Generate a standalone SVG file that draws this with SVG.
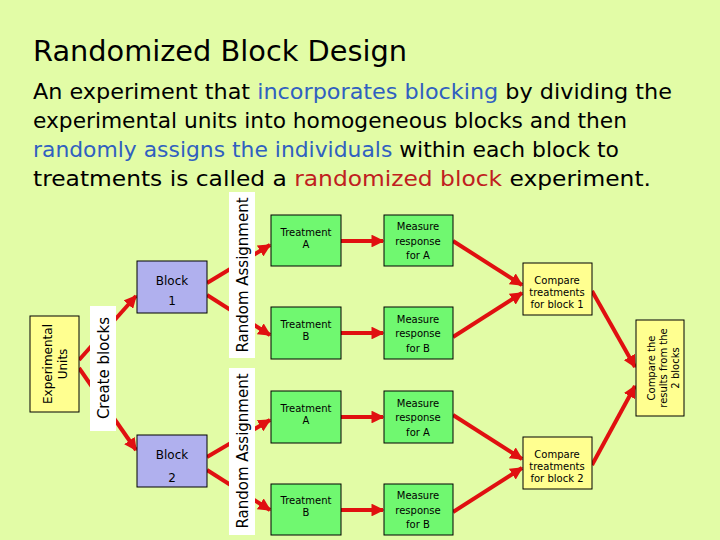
<svg xmlns="http://www.w3.org/2000/svg" width="720" height="540" viewBox="0 0 720 540">
<defs>
<marker id="ah" viewBox="0 0 10 10" refX="9" refY="5" markerWidth="3.2" markerHeight="3.2" orient="auto"><path d="M0,0L10,5L0,10z" fill="#e01010"/></marker>
<style>
text{font-family:"DejaVu Sans",sans-serif;fill:#000}
.c line{stroke:#e01010;stroke-width:4;marker-end:url(#ah)}
.g{fill:#70f870;stroke:#000}
.y{fill:#ffff90;stroke:#000}
.b{fill:#b0b0ee;stroke:#000}
.w{fill:#fff}
.s{font-size:10px;text-anchor:middle}
.m{font-size:12px;text-anchor:middle}
.hb{fill:#3060c0}
.hr{fill:#c02020}
</style>
</defs>
<rect width="720" height="540" fill="#e2fca6"/>
<text x="33" y="61" font-size="29" fill="#101010" textLength="374" lengthAdjust="spacingAndGlyphs">Randomized Block Design</text>
<g font-size="22">
<text x="33" y="99" textLength="639" lengthAdjust="spacingAndGlyphs">An experiment that <tspan class="hb">incorporates blocking</tspan> by dividing the</text>
<text x="33" y="128" textLength="594" lengthAdjust="spacingAndGlyphs">experimental units into homogeneous blocks and then</text>
<text x="33" y="157" textLength="586" lengthAdjust="spacingAndGlyphs"><tspan class="hb">randomly assigns the individuals</tspan> within each block to</text>
<text x="33" y="186" textLength="618" lengthAdjust="spacingAndGlyphs">treatments is called a <tspan class="hr">randomized block</tspan> experiment.</text>
</g>
<g class="c">
<line x1="79" y1="360" x2="136" y2="296"/>
<line x1="79" y1="368" x2="136" y2="450"/>
<line x1="207" y1="283" x2="270" y2="245"/>
<line x1="207" y1="295" x2="270" y2="335"/>
<line x1="207" y1="457" x2="270" y2="420"/>
<line x1="207" y1="470" x2="270" y2="510"/>
<line x1="341" y1="241" x2="383" y2="241"/>
<line x1="341" y1="333" x2="383" y2="333"/>
<line x1="341" y1="417" x2="383" y2="417"/>
<line x1="341" y1="510" x2="383" y2="510"/>
<line x1="453" y1="241" x2="522" y2="285"/>
<line x1="453" y1="337" x2="522" y2="293"/>
<line x1="453" y1="415" x2="522" y2="459"/>
<line x1="453" y1="512" x2="522" y2="468"/>
<line x1="592" y1="291" x2="635" y2="367"/>
<line x1="592" y1="465" x2="635" y2="386"/>
</g>
<g id="exp"><rect class="y" x="30" y="316" width="49" height="96"/><text class="m" transform="translate(52,364) rotate(-90)">Experimental</text><text class="m" transform="translate(67,364) rotate(-90)">Units</text></g>
<g id="create"><rect class="w" x="90" y="306" width="26" height="125"/><text font-size="15" text-anchor="middle" transform="translate(109,368) rotate(-90)">Create blocks</text></g>
<g id="block1"><rect class="b" x="137" y="261" width="70" height="52"/><text class="m" x="172" y="285">Block</text><text class="m" x="172" y="305">1</text></g>
<g id="block2"><rect class="b" x="137" y="435" width="70" height="52"/><text class="m" x="172" y="459">Block</text><text class="m" x="172" y="482">2</text></g>
<g id="ra1"><rect class="w" x="229" y="192" width="26" height="166"/><text font-size="15" text-anchor="middle" transform="translate(248,275) rotate(-90)">Random Assignment</text></g>
<g id="ra2"><rect class="w" x="229" y="368" width="26" height="167"/><text font-size="15" text-anchor="middle" transform="translate(248,451) rotate(-90)">Random Assignment</text></g>
<g id="t1"><rect class="g" x="271" y="215" width="70" height="51"/><text class="s" x="306" y="236">Treatment</text><text class="s" x="306" y="248">A</text></g>
<g id="t2"><rect class="g" x="271" y="307" width="70" height="52"/><text class="s" x="306" y="328">Treatment</text><text class="s" x="306" y="340">B</text></g>
<g id="t3"><rect class="g" x="271" y="391" width="70" height="52"/><text class="s" x="306" y="412">Treatment</text><text class="s" x="306" y="424">A</text></g>
<g id="t4"><rect class="g" x="271" y="484" width="70" height="51"/><text class="s" x="306" y="504">Treatment</text><text class="s" x="306" y="516">B</text></g>
<g id="m1"><rect class="g" x="384" y="215" width="69" height="51"/><text class="s" x="418" y="230">Measure</text><text class="s" x="418" y="245">response</text><text class="s" x="418" y="259">for A</text></g>
<g id="m2"><rect class="g" x="384" y="307" width="69" height="52"/><text class="s" x="418" y="323">Measure</text><text class="s" x="418" y="337">response</text><text class="s" x="418" y="352">for B</text></g>
<g id="m3"><rect class="g" x="384" y="391" width="69" height="52"/><text class="s" x="418" y="407">Measure</text><text class="s" x="418" y="421">response</text><text class="s" x="418" y="436">for A</text></g>
<g id="m4"><rect class="g" x="384" y="484" width="69" height="51"/><text class="s" x="418" y="499">Measure</text><text class="s" x="418" y="514">response</text><text class="s" x="418" y="528">for B</text></g>
<g id="c1"><rect class="y" x="523" y="263" width="69" height="52"/><text class="s" x="557" y="284">Compare</text><text class="s" x="557" y="296">treatments</text><text class="s" x="557" y="308">for block 1</text></g>
<g id="c2"><rect class="y" x="523" y="437" width="69" height="52"/><text class="s" x="557" y="458">Compare</text><text class="s" x="557" y="470">treatments</text><text class="s" x="557" y="482">for block 2</text></g>
<g id="final"><rect class="y" x="636" y="320" width="48" height="96"/><text class="s" transform="translate(655,368) rotate(-90)">Compare the</text><text class="s" transform="translate(667,368) rotate(-90)">results from the</text><text class="s" transform="translate(679,368) rotate(-90)">2 blocks</text></g>
</svg>
